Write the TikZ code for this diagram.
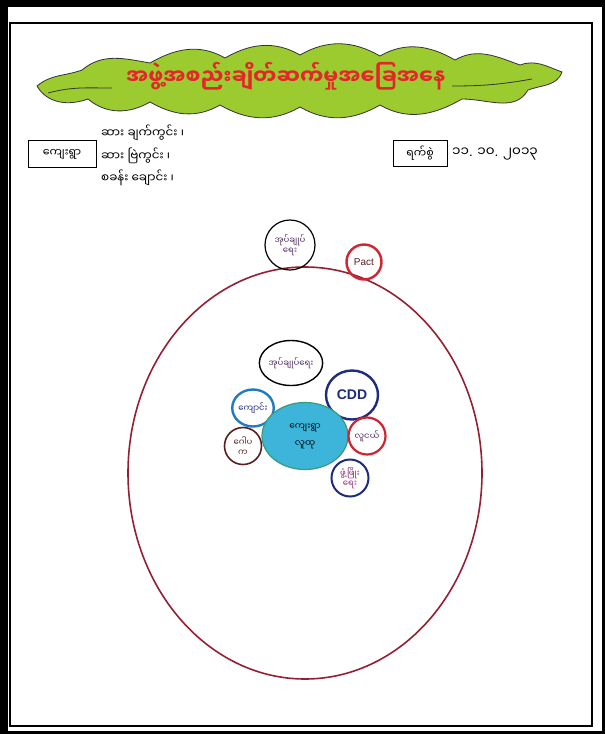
\documentclass[tikz,border=0pt]{standalone}
\usepackage{fontspec}
\setmainfont{Liberation Sans}
\newfontfamily\my[Script=Myanmar]{Noto Sans Myanmar UI}
\definecolor{cloudg}{HTML}{9CCB2F}
\definecolor{titler}{HTML}{E3262A}
\definecolor{ellr}{HTML}{962033}
\definecolor{navyc}{HTML}{1E2B7E}
\definecolor{sblue}{HTML}{1F7CC0}
\definecolor{cyanf}{HTML}{3DB5DB}
\definecolor{cyanb}{HTML}{3A9B78}
\definecolor{redc}{HTML}{D02430}
\definecolor{maroonc}{HTML}{5B1F22}
\definecolor{purpc}{HTML}{4E2A5E}
\definecolor{magc}{HTML}{8B2A6B}
\usetikzlibrary{shapes.geometric}
\tikzset{
  bub/.style={ellipse, inner sep=0pt, align=center, font=\my\fontsize{8.5}{10}\selectfont},
  lbox/.style={draw=black, line width=0.8pt, inner sep=0pt, font=\my\fontsize{11}{12}\selectfont},
  info/.style={anchor=west, inner sep=0pt, font=\my\fontsize{12}{13}\selectfont},
}
\newcommand{\pd}{{\rmfamily.}}
\begin{document}
\begin{tikzpicture}[x=1pt,y=1pt]
\fill[white] (0,0) rectangle (605,-734);
\useasboundingbox (0,0) rectangle (605,-734);
% frames
\draw[line width=8pt] (4,-4) -- (4,-734);
\draw[line width=7pt] (0,-3.5) -- (605,-3.5);
\draw[line width=3pt] (603.5,0) -- (603.5,-734);
\draw[line width=3pt] (0,-732.5) -- (605,-732.5);
\draw[line width=1.8pt] (10,-23) rectangle (592,-726);
% cloud
\draw[fill=cloudg, draw=black!80, line width=0.8pt]
  (37,-86) to[out=40,in=200] (82,-70)
  to[out=40,in=170] (150,-63)
  to[out=30,in=150] (225,-58)
  to[out=30,in=150] (300,-55)
  to[out=30,in=150] (380,-56)
  to[out=30,in=150] (455,-60)
  to[out=30,in=160] (520,-65)
  to[out=20,in=160] (562,-72)
  to[out=250,in=20] (528,-90)
  to[out=240,in=0] (462,-99)
  to[out=210,in=-30] (380,-105)
  to[out=210,in=-30] (300,-107)
  to[out=210,in=-30] (220,-105)
  to[out=210,in=-30] (150,-102)
  to[out=210,in=-40] (88,-99)
  to[out=200,in=-60] (37,-86) -- cycle;
\draw[black!80, line width=0.8pt] (48,-93) to[out=15,in=180] (112,-88);
\draw[black!80, line width=0.8pt] (452,-86) to[out=0,in=190] (532,-79);
\node[font=\my\fontsize{21}{24}\selectfont\bfseries, text=titler, inner sep=0pt] (title) at (286,-76) {အဖွဲ့အစည်းချိတ်ဆက်မှုအခြေအနေ};
% header boxes
\node[lbox, minimum width=68pt, minimum height=27pt] (village) at (62,-154) {ကျေးရွာ};
\node[info] (l1) at (101,-133) {ဆား ချက်ကွင်း ၊};
\node[info] (l2) at (101,-156) {ဆား ဗြဲကွင်း ၊};
\node[info] (l3) at (101,-178) {စခန်း ချောင်း ၊};
\node[lbox, minimum width=54pt, minimum height=26pt] (datebox) at (420,-153) {ရက်စွဲ};
\node[info, font=\my\fontsize{13.5}{15}\selectfont] (date) at (452,-154) {၁၁\pd{} ၁၀\pd{} ၂၀၁၃};
% big ellipse
\node[ellipse, draw=ellr, line width=1.6pt, minimum width=354pt, minimum height=412pt, inner sep=0pt] (env) at (305,-473) {};
% outside bubbles
\node[bub, draw=black, line width=1.2pt, minimum width=50pt, minimum height=50pt, text=purpc] (admout) at (290,-245) {အုပ်ချုပ်\\ရေး};
\node[bub, draw=redc, line width=2.4pt, minimum width=35pt, minimum height=35pt, text=maroonc, font=\fontsize{10}{11}\selectfont] (pact) at (364,-262) {Pact};
% inner bubbles
\node[bub, draw=black, line width=1.4pt, minimum width=53pt, minimum height=45pt, text=purpc] (admin) at (291,-363) {အုပ်ချုပ်ရေး};
\node[bub, draw=navyc, line width=2.4pt, minimum width=52pt, minimum height=49pt, text=navyc, font=\bfseries\fontsize{14}{15}\selectfont] (cdd) at (352,-395) {CDD};
\node[bub, draw=sblue, line width=2.4pt, minimum width=37pt, minimum height=37pt, text=navyc] (school) at (253,-408) {ကျောင်း};
\node[bub, fill=cyanf, draw=cyanb, line width=1.2pt, minimum width=86pt, minimum height=67pt, text=black, font=\my\fontsize{9}{17}\selectfont] (comm) at (305,-436) {ကျေးရွာ\\လူထု};
\node[bub, draw=maroonc, line width=1.6pt, minimum width=37pt, minimum height=37pt, text=maroonc] (gopa) at (243,-446) {ဂေါပ\\က};
\node[bub, draw=redc, line width=2.2pt, minimum width=37pt, minimum height=37pt, text=purpc] (youth) at (367,-436) {လူငယ်};
\node[bub, draw=navyc, line width=2pt, minimum width=37pt, minimum height=37pt, text=magc] (dev) at (350,-478) {ဖွံ့ဖြိုး\\ရေး};
\end{tikzpicture}
\end{document}
